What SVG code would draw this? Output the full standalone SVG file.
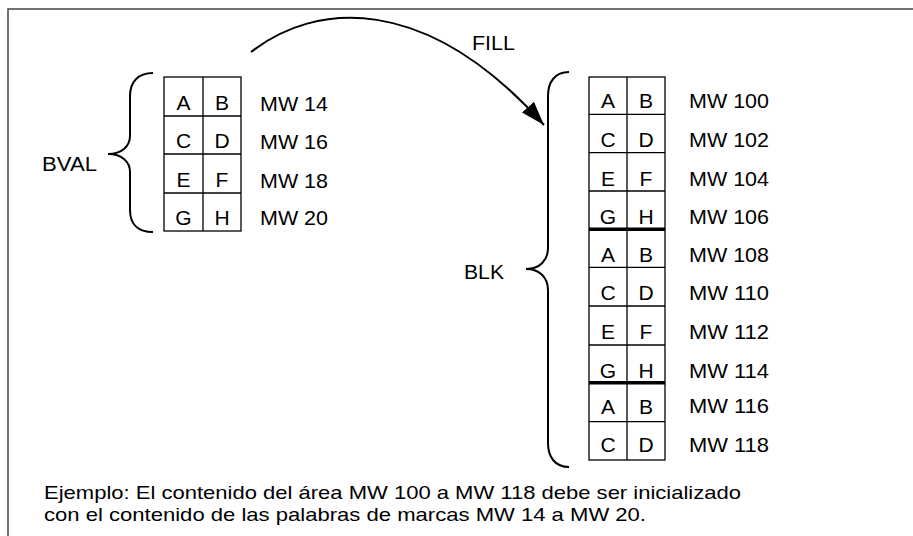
<svg xmlns="http://www.w3.org/2000/svg" width="913" height="536" viewBox="0 0 913 536">
<style>
  text { font-family: "Liberation Sans", Arial, sans-serif; fill: #000; }
  .c { font-size: 21px; text-anchor: middle; }
  .l { font-size: 20.5px; }
  .note { font-size: 19px; }
  .grid { fill: #fff; stroke: #000; stroke-width: 1.3; }
  .thick { stroke: #000; stroke-width: 3.5; }
  .brace { fill: none; stroke: #000; stroke-width: 2; }
  .frame { fill: none; stroke: #444; stroke-width: 1.5; }
</style>
<defs>
  <marker id="ah" markerUnits="userSpaceOnUse" markerWidth="26" markerHeight="18" refX="24" refY="8" orient="auto">
    <path d="M0,0 L24,8 L0,16 Z" fill="#000"/>
  </marker>
</defs>
<rect width="913" height="536" fill="#fff"/>
<path class="frame" d="M8,540 L8,9 L915,9"/>

<g id="connectors">
  <path d="M251,52 C315,2 425,-8 544,125" fill="none" stroke="#000" stroke-width="2" marker-end="url(#ah)"/>
  <text class="l" x="472" y="50" textLength="43" lengthAdjust="spacingAndGlyphs">FILL</text>
</g>

<g id="bval">
  <path class="brace" d="M153,73 C138,73 130,82 130,96 L130,136 C130,146 122,154 108,154 C122,154 130,162 130,172 L130,210 C130,224 138,232 153,232"/>
  <text class="l" x="42" y="171" textLength="55" lengthAdjust="spacingAndGlyphs">BVAL</text>
  <rect class="grid" x="164" y="77" width="77" height="154"/>
  <path stroke="#000" stroke-width="1.3" d="M203,77 V231 M164,116 H241 M164,154 H241 M164,193 H241"/>
  <text class="c" x="183.5" y="110">A</text><text class="c" x="222" y="110">B</text>
  <text class="c" x="183.5" y="148">C</text><text class="c" x="222" y="148">D</text>
  <text class="c" x="183.5" y="187">E</text><text class="c" x="222" y="187">F</text>
  <text class="c" x="183.5" y="225">G</text><text class="c" x="222" y="225">H</text>
  <text class="l" x="260" y="111" textLength="68" lengthAdjust="spacingAndGlyphs">MW 14</text>
  <text class="l" x="260" y="149" textLength="68" lengthAdjust="spacingAndGlyphs">MW 16</text>
  <text class="l" x="260" y="188" textLength="68" lengthAdjust="spacingAndGlyphs">MW 18</text>
  <text class="l" x="260" y="225" textLength="68" lengthAdjust="spacingAndGlyphs">MW 20</text>
</g>

<g id="blk">
  <path class="brace" d="M569,72 C555,72 548,82 548,96 L548,248 C548,260 540,269 526,269 C540,269 548,278 548,290 L548,443 C548,457 555,467 569,467"/>
  <text class="l" x="464" y="279" textLength="40" lengthAdjust="spacingAndGlyphs">BLK</text>
  <rect class="grid" x="589" y="77" width="76" height="383"/>
  <path stroke="#000" stroke-width="1.3" d="M627,77 V460 M589,114.3 H665 M589,152.7 H665 M589,191 H665 M589,267.3 H665 M589,306 H665 M589,345 H665 M589,421.7 H665"/>
  <path class="thick" d="M589,229.3 H665 M589,382.7 H665"/>
  <text class="c" x="608" y="108">A</text><text class="c" x="646" y="108">B</text>
  <text class="c" x="608" y="147">C</text><text class="c" x="646" y="147">D</text>
  <text class="c" x="608" y="186">E</text><text class="c" x="646" y="186">F</text>
  <text class="c" x="608" y="224">G</text><text class="c" x="646" y="224">H</text>
  <text class="c" x="608" y="262">A</text><text class="c" x="646" y="262">B</text>
  <text class="c" x="608" y="300">C</text><text class="c" x="646" y="300">D</text>
  <text class="c" x="608" y="339">E</text><text class="c" x="646" y="339">F</text>
  <text class="c" x="608" y="378">G</text><text class="c" x="646" y="378">H</text>
  <text class="c" x="608" y="414">A</text><text class="c" x="646" y="414">B</text>
  <text class="c" x="608" y="452">C</text><text class="c" x="646" y="452">D</text>
  <text class="l" x="689" y="108" textLength="80" lengthAdjust="spacingAndGlyphs">MW 100</text>
  <text class="l" x="689" y="147" textLength="80" lengthAdjust="spacingAndGlyphs">MW 102</text>
  <text class="l" x="689" y="186" textLength="80" lengthAdjust="spacingAndGlyphs">MW 104</text>
  <text class="l" x="689" y="224" textLength="80" lengthAdjust="spacingAndGlyphs">MW 106</text>
  <text class="l" x="689" y="262" textLength="80" lengthAdjust="spacingAndGlyphs">MW 108</text>
  <text class="l" x="689" y="300" textLength="80" lengthAdjust="spacingAndGlyphs">MW 110</text>
  <text class="l" x="689" y="339" textLength="80" lengthAdjust="spacingAndGlyphs">MW 112</text>
  <text class="l" x="689" y="378" textLength="80" lengthAdjust="spacingAndGlyphs">MW 114</text>
  <text class="l" x="689" y="413" textLength="80" lengthAdjust="spacingAndGlyphs">MW 116</text>
  <text class="l" x="689" y="452" textLength="80" lengthAdjust="spacingAndGlyphs">MW 118</text>
</g>

<g id="note">
  <text class="note" x="44" y="499" textLength="697" lengthAdjust="spacingAndGlyphs">Ejemplo: El contenido del área MW 100 a MW 118 debe ser inicializado</text>
  <text class="note" x="44" y="521" textLength="602" lengthAdjust="spacingAndGlyphs">con el contenido de las palabras de marcas MW 14 a MW 20.</text>
</g>
</svg>
